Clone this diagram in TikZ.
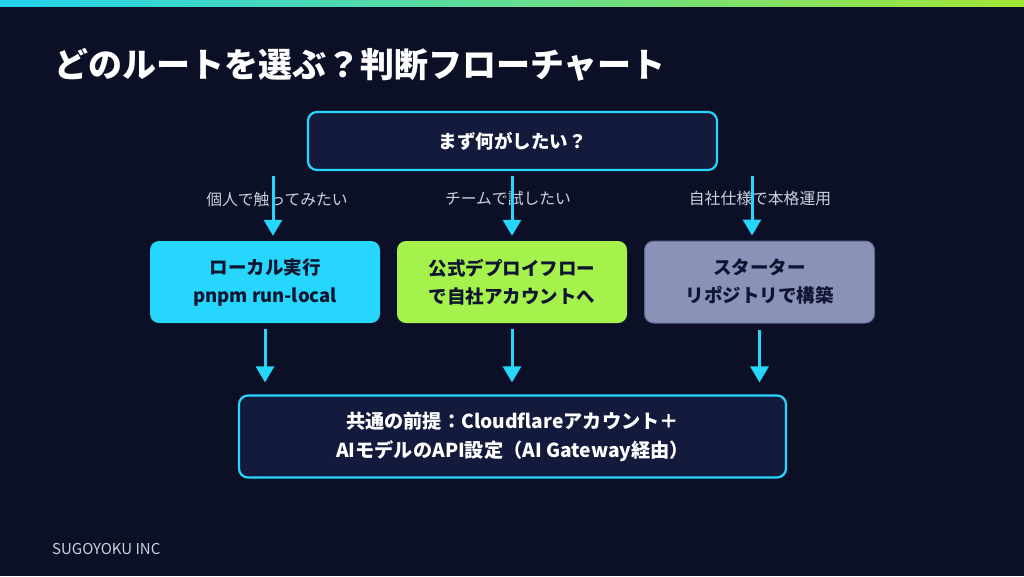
\documentclass[tikz,border=0pt]{standalone}
\usepackage{fontspec}
\setmainfont{Noto Sans CJK JP}
\usetikzlibrary{arrows.meta,calc}
\definecolor{bg}{HTML}{0B1026}
\definecolor{boxbg}{HTML}{141A3C}
\definecolor{cy}{HTML}{26D6FC}
\definecolor{lime}{HTML}{A6F24C}
\definecolor{slate}{HTML}{8A92B8}
\definecolor{slateb}{HTML}{5E6689}
\definecolor{ink}{HTML}{0F1530}
\definecolor{lbl}{HTML}{CDD1DD}
\definecolor{gA}{HTML}{22D3EE}
\definecolor{gB}{HTML}{A3E635}
\tikzset{
  darkbox/.style={draw=cy, line width=2.2pt, fill=boxbg, rounded corners=9pt, inner sep=0pt, align=center, text=white, font=\bfseries\fontsize{18.5}{28}\selectfont},
  colbox/.style={rounded corners=9pt, inner sep=0pt, align=center, text=ink, minimum width=230pt, minimum height=82pt, font=\bfseries\fontsize{18.5}{28}\selectfont},
  branch/.style={text=lbl, inner sep=0pt, font=\fontsize{15.8}{18}\selectfont},
  arr/.style={draw=cy, line width=3pt, -{Triangle[width=18pt,length=16pt]}}
}
\begin{document}
\begin{tikzpicture}[x=1pt,y=-1pt]
\fill[bg] (0,0) rectangle (1024,576);
\shade[left color=gA, right color=gB] (0,0) rectangle (1024,6);
\useasboundingbox (0,0) rectangle (1024,576);

\node[anchor=west, inner sep=0pt, text=white, font=\bfseries\fontsize{34}{40}\selectfont] (title) at (54,64.5) {どのルートを選ぶ？判断フローチャート};

\node[darkbox, minimum width=409pt, minimum height=58pt] (top) at (512.5,141) {まず何がしたい？};

\node[colbox, fill=cy] (l) at (265,282) {ローカル実行\\pnpm run-local};
\node[colbox, fill=lime] (m) at (512,282) {公式デプロイフロー\\で自社アカウントへ};
\node[colbox, fill=slate, draw=slateb, line width=1pt] (r) at (759.5,282) {スターター\\リポジトリで構築};

\node[darkbox, minimum width=547pt, minimum height=82pt, font=\bfseries\fontsize{19.2}{29}\selectfont] (bot) at (512.5,436.5) {共通の前提：Cloudflareアカウント＋\\AIモデルのAPI設定（AI Gateway経由）};

\node[branch] (bl) at (277,199) {個人で触ってみたい};
\node[branch] (bm) at (508,199) {チームで試したい};
\node[branch] (br) at (760,199) {自社仕様で本格運用};

\draw[arr] ([xshift=8pt,yshift=-5pt]top.south -| l.north) -- ([xshift=8pt,yshift=5pt]l.north);
\draw[arr] ([yshift=-5pt]top.south -| m.north) -- ([yshift=5pt]m.north);
\draw[arr] ([xshift=-7.5pt,yshift=-5pt]top.south -| r.north) -- ([xshift=-7.5pt,yshift=5pt]r.north);

\draw[arr] ([yshift=-6pt]l.south) -- ([yshift=12pt]bot.north -| l.south);
\draw[arr] ([yshift=-6pt]m.south) -- ([yshift=12pt]bot.north -| m.south);
\draw[arr] ([yshift=-6pt]r.south) -- ([yshift=12pt]bot.north -| r.south);

\node[anchor=west, inner sep=0pt, text=lbl, font=\fontsize{15}{18}\selectfont] (foot) at (52,549) {SUGOYOKU INC};
\end{tikzpicture}
\end{document}
